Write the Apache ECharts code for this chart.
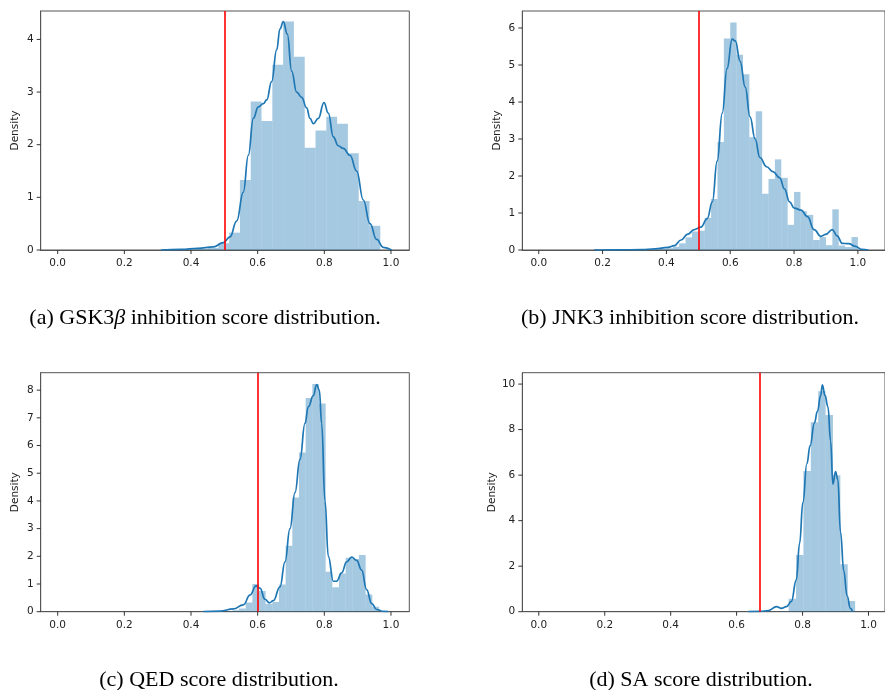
<!DOCTYPE html>
<html><head><meta charset="utf-8">
<script src="https://cdn.jsdelivr.net/npm/echarts@6/dist/echarts.min.js"></script>
<style>html,body{margin:0;padding:0;background:#fff}#c{width:885px;height:690px}</style>
</head><body><div id="c"></div>
<script>
// ---- data ----
const xTickValues = [0, 0.2, 0.4, 0.6, 0.8, 1.0];

const gskEdges = [0.3848, 0.4172, 0.4496, 0.482, 0.5144, 0.5468, 0.5792, 0.6116, 0.644, 0.6764, 0.7088, 0.7412, 0.7736, 0.806, 0.8384, 0.8708, 0.9032, 0.9356, 0.968];
const gskHeights = [0.01, 0.02, 0.04, 0.13, 0.33, 1.33, 2.82, 2.45, 3.52, 4.34, 3.67, 1.94, 2.27, 2.53, 2.40, 1.84, 0.93, 0.46];
const gskKde = [[0.31,0],[0.37,0.01],[0.42,0.03],[0.467,0.06],[0.497,0.14],[0.517,0.25],[0.537,0.55],[0.557,1.1],[0.572,1.8],[0.587,2.5],[0.602,2.72],[0.617,2.78],[0.627,2.85],[0.642,3.2],[0.657,3.8],[0.667,4.2],[0.677,4.34],[0.689,4.1],[0.702,3.4],[0.717,3.0],[0.732,2.9],[0.747,2.7],[0.757,2.5],[0.767,2.4],[0.782,2.5],[0.799,2.8],[0.812,2.6],[0.827,2.15],[0.842,1.98],[0.857,1.93],[0.877,1.8],[0.897,1.5],[0.917,0.95],[0.937,0.5],[0.957,0.2],[0.977,0.05],[1.002,0]];
const gskThreshold = 0.5;
const gskYTicks = [0, 1, 2, 3, 4];

const jnkEdges = [0.36,0.38,0.40,0.42,0.44,0.46,0.48,0.50,0.52,0.54,0.56,0.58,0.60,0.62,0.64,0.66,0.68,0.70,0.72,0.74,0.76,0.78,0.80,0.82,0.84,0.86,0.88,0.90,0.92,0.94,0.96,0.98,1.00];
const jnkHeights = [0.02,0.03,0.05,0.09,0.18,0.34,0.50,0.52,0.87,1.38,2.92,5.72,6.15,5.28,4.75,3.05,3.75,1.52,1.92,2.45,1.95,0.68,1.57,1.05,0.95,0.27,0.35,0.13,1.10,0.12,0.08,0.35];
const jnkKde = [[0.173,0],[0.25,0.003],[0.322,0.01],[0.364,0.03],[0.405,0.07],[0.425,0.12],[0.446,0.27],[0.467,0.43],[0.487,0.55],[0.508,0.62],[0.528,0.85],[0.544,1.3],[0.559,2.4],[0.575,3.7],[0.590,4.9],[0.606,5.7],[0.616,5.65],[0.631,5.1],[0.647,4.4],[0.662,3.6],[0.678,3.0],[0.693,2.5],[0.714,2.25],[0.734,2.12],[0.755,1.95],[0.770,1.65],[0.786,1.3],[0.801,1.13],[0.822,1.08],[0.842,0.9],[0.863,0.55],[0.884,0.37],[0.899,0.42],[0.920,0.55],[0.935,0.38],[0.951,0.18],[0.971,0.17],[0.992,0.1],[1.012,0.02],[1.033,0]];
const jnkThreshold = 0.5;
const jnkYTicks = [0, 1, 2, 3, 4, 5, 6];

const qedEdges = [0.504,0.524,0.544,0.564,0.584,0.604,0.624,0.644,0.664,0.684,0.704,0.724,0.744,0.764,0.784,0.804,0.824,0.844,0.864,0.884,0.904,0.924,0.944,0.964];
const qedHeights = [0.02,0.05,0.12,0.33,1.0,0.75,0.28,0.35,0.98,2.38,4.12,5.75,7.72,8.22,7.52,1.44,0.88,1.38,1.95,1.90,2.05,0.62,0.18];
const qedKde = [[0.437,0],[0.487,0.02],[0.527,0.1],[0.557,0.25],[0.577,0.6],[0.595,0.93],[0.607,0.85],[0.622,0.45],[0.635,0.32],[0.647,0.4],[0.667,0.9],[0.682,1.8],[0.697,3.0],[0.712,4.3],[0.727,5.5],[0.742,6.8],[0.752,7.4],[0.767,7.8],[0.777,8.2],[0.785,8.0],[0.792,6.8],[0.802,4.0],[0.812,2.0],[0.827,1.1],[0.837,1.1],[0.852,1.4],[0.867,1.8],[0.882,1.97],[0.897,1.85],[0.912,1.5],[0.927,0.8],[0.942,0.3],[0.957,0.08],[0.977,0.01],[0.992,0]];
const qedThreshold = 0.6;
const qedYTicks = [0, 1, 2, 3, 4, 5, 6, 7, 8];

const saEdges = [0.7354,0.7578,0.7802,0.8026,0.825,0.8474,0.8698,0.8922,0.9146,0.937,0.9594];
const saHeights = [0.03,0.57,2.49,6.18,8.32,9.69,8.64,5.99,2.09,0.47];
const saKde = [[0.636,0],[0.671,0.01],[0.696,0.05],[0.721,0.22],[0.736,0.15],[0.751,0.22],[0.766,0.45],[0.781,1.4],[0.791,3.0],[0.801,4.8],[0.813,6.5],[0.823,7.3],[0.836,8.3],[0.845,8.8],[0.855,9.5],[0.860,9.97],[0.868,9.5],[0.877,9.0],[0.885,7.5],[0.892,5.6],[0.900,6.15],[0.907,5.8],[0.915,3.5],[0.925,1.8],[0.935,0.7],[0.945,0.15],[0.952,0]];
const saThreshold = 0.67;
const saYTicks = [0, 2, 4, 6, 8, 10];

const captions = ['(a) GSK3{i|β} inhibition score distribution.', '(b) JNK3 inhibition score distribution.', '(c) QED score distribution.', '(d) SA score distribution.'];

// ---- layout ----
const panels = [
  {edges: gskEdges, heights: gskHeights, kde: gskKde, thr: gskThreshold, yTicks: gskYTicks, grid: {left: 40.7, top: 11, width: 368.6, height: 239}, xr: [-0.051, 1.055], ymax: 4.54},
  {edges: jnkEdges, heights: jnkHeights, kde: jnkKde, thr: jnkThreshold, yTicks: jnkYTicks, grid: {left: 522.3, top: 11, width: 368, height: 239}, xr: [-0.0516, 1.085], ymax: 6.46},
  {edges: qedEdges, heights: qedHeights, kde: qedKde, thr: qedThreshold, yTicks: qedYTicks, grid: {left: 40.7, top: 372.7, width: 368.6, height: 239}, xr: [-0.051, 1.055], ymax: 8.63},
  {edges: saEdges, heights: saHeights, kde: saKde, thr: saThreshold, yTicks: saYTicks, grid: {left: 522.3, top: 372.7, width: 367.7, height: 239}, xr: [-0.05, 1.05], ymax: 10.5}
];
const captionPos = [[205, 318], [690, 318], [219, 680], [701, 680]];

const BLUE = '#1f77b4';
const TICK_LEN = 4;
const tickFont = {fontFamily: 'DejaVu Sans', fontSize: 10.5, color: '#222'};

function renderBar(params, api) {
  const x0 = api.value(0), x1 = api.value(1), h = api.value(2);
  const p0 = api.coord([x0, h]);
  const p1 = api.coord([x1, 0]);
  return {type: 'rect', shape: {x: p0[0], y: p0[1], width: p1[0] - p0[0], height: p1[1] - p0[1]},
          style: {fill: 'rgba(31,119,180,0.4)'}};
}

const grid = [], xAxis = [], yAxis = [], series = [];
panels.forEach((p, i) => {
  grid.push(Object.assign({show: true, borderColor: '#555', borderWidth: 1, backgroundColor: 'transparent', containLabel: false}, p.grid));
  xAxis.push({type: 'value', gridIndex: i, min: p.xr[0], max: p.xr[1], position: 'bottom',
    axisLine: {show: true, onZero: false, lineStyle: {color: '#555', width: 1}}, splitLine: {show: false},
    axisTick: {show: false},
    axisLabel: Object.assign({customValues: xTickValues, margin: 8, formatter: v => v.toFixed(1)}, tickFont)});
  yAxis.push({type: 'value', gridIndex: i, min: 0, max: p.ymax, position: 'left',
    name: 'Density', nameLocation: 'middle', nameGap: 20, nameRotate: 90,
    nameTextStyle: {fontFamily: 'DejaVu Sans', fontSize: 10.5, color: '#222'},
    axisLine: {show: true, onZero: false, lineStyle: {color: '#555', width: 1}}, splitLine: {show: false},
    axisTick: {show: false},
    axisLabel: Object.assign({customValues: p.yTicks, margin: 7}, tickFont)});
  const bars = p.heights.map((h, k) => [p.edges[k], p.edges[k + 1], h]);
  series.push({type: 'custom', xAxisIndex: i, yAxisIndex: i, renderItem: renderBar, data: bars,
    encode: {x: [0, 1], y: 2}, clip: true, silent: true, z: 1});
  series.push({type: 'line', xAxisIndex: i, yAxisIndex: i, data: p.kde, showSymbol: false, symbol: 'none',
    smooth: 0.45, smoothMonotone: 'x', lineStyle: {color: BLUE, width: 1.7}, silent: true, z: 3, clip: true,
    markLine: {silent: true, symbol: ['none', 'none'], label: {show: false},
      lineStyle: {color: '#ff0000', width: 1.6, type: 'solid'}, data: [{xAxis: p.thr}]}});
});

const captionGraphics = captions.map((t, i) => ({type: 'text', x: captionPos[i][0], y: captionPos[i][1],
  style: {text: t, fontFamily: 'Liberation Serif', fontSize: 22, fill: '#000', textAlign: 'center', textVerticalAlign: 'middle',
    rich: {i: {fontFamily: 'Liberation Serif', fontStyle: 'italic', fontSize: 22, fill: '#000'}}}}));

const chart = echarts.init(document.getElementById('c'), null, {renderer: 'canvas'});
chart.setOption({animation: false, backgroundColor: '#fff', grid, xAxis, yAxis, series, graphic: captionGraphics});

// tick marks positioned through the axis scales
const tickGraphics = [];
panels.forEach((p, i) => {
  xTickValues.forEach(v => {
    const pt = chart.convertToPixel({gridIndex: i}, [v, 0]);
    tickGraphics.push({type: 'line', silent: true, z: 10,
      shape: {x1: pt[0], y1: pt[1], x2: pt[0], y2: pt[1] + TICK_LEN}, style: {stroke: '#333', lineWidth: 1}});
  });
  p.yTicks.forEach(v => {
    const pt = chart.convertToPixel({gridIndex: i}, [p.xr[0], v]);
    tickGraphics.push({type: 'line', silent: true, z: 10,
      shape: {x1: pt[0] - TICK_LEN, y1: pt[1], x2: pt[0], y2: pt[1]}, style: {stroke: '#333', lineWidth: 1}});
  });
});
chart.setOption({graphic: captionGraphics.concat(tickGraphics)});
</script></body></html>
